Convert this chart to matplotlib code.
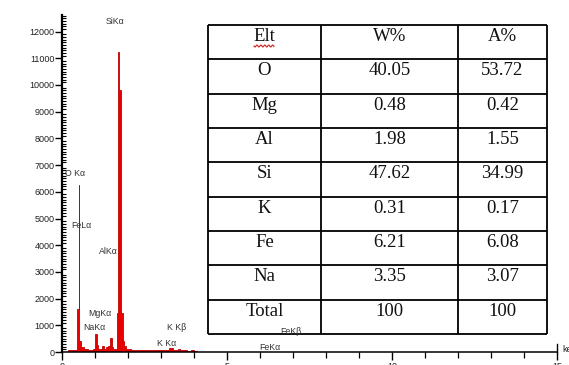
import numpy as np
import matplotlib
matplotlib.use("Agg")
import matplotlib.pyplot as plt
from matplotlib.ticker import MultipleLocator, FixedLocator

# ---- spectrum data (keV edges, counts) ----
edges = [0.18, 0.44, 0.50, 0.53, 0.58, 0.66, 0.80, 0.95, 1.01, 1.06, 1.10, 1.16,
         1.22, 1.27, 1.32, 1.40, 1.46, 1.51, 1.56, 1.66, 1.69, 1.72, 1.78, 1.84,
         1.88, 1.95, 2.10, 2.40, 2.80, 3.10, 3.25, 3.35, 3.50, 3.58, 3.65, 3.80,
         3.90, 4.00, 4.10]
counts = [60, 1600, 6250, 430, 180, 100, 80, 120, 680, 280, 130, 100,
          220, 120, 200, 220, 520, 200, 120, 1450, 11250, 9800, 1450, 400,
          220, 120, 90, 80, 70, 90, 150, 80, 110, 60, 90, 50,
          90, 40]

y_ticks = [0, 1000, 2000, 3000, 4000, 5000, 6000, 7000, 8000, 9000, 10000, 11000, 12000]
x_ticks = [0, 5, 10, 15]

# ---- table data ----
col_headers = ["Elt", "W%", "A%"]
elements = ["O", "Mg", "Al", "Si", "K", "Fe", "Na", "Total"]
w_pct = ["40.05", "0.48", "1.98", "47.62", "0.31", "6.21", "3.35", "100"]
a_pct = ["53.72", "0.42", "1.55", "34.99", "0.17", "6.08", "3.07", "100"]

# ---- peak labels (text, pixel x-left, pixel y-center) ----
peak_labels = [("SiK\u03b1", 106, 22), ("O K\u03b1", 65, 173), ("FeL\u03b1", 71, 226),
               ("AlK\u03b1", 99, 251), ("MgK\u03b1", 88, 313), ("NaK\u03b1", 83, 328),
               ("K K\u03b2", 167, 327), ("K K\u03b1", 157, 343),
               ("FeK\u03b2", 280, 332), ("FeK\u03b1", 259, 347)]

W, H = 569, 365
fig = plt.figure(figsize=(W / 100, H / 100), dpi=100)
fig.patch.set_facecolor("white")

x0, x1 = 62, 557
y0, y1 = 352, 15
ax = fig.add_axes([x0 / W, 1 - y0 / H, (x1 - x0) / W, (y0 - y1) / H])
ax.set_xlim(0, 15)
ax.set_ylim(0, (y0 - y1) / 26.7 * 1000)
ax.stairs(counts, edges, fill=True, facecolor="#e60000", edgecolor="#c40000",
          linewidth=0.6, baseline=0)

for s in ["top", "right"]:
    ax.spines[s].set_visible(False)
ax.spines["left"].set_linewidth(1.6)
ax.spines["bottom"].set_linewidth(1.1)

ax.yaxis.set_major_locator(FixedLocator(y_ticks))
ax.yaxis.set_minor_locator(MultipleLocator(100))
ax.xaxis.set_major_locator(FixedLocator(x_ticks))
ax.xaxis.set_minor_locator(MultipleLocator(1))
ax.tick_params(axis="y", which="major", direction="out", length=5, width=1.0,
               labelsize=6.5, pad=0.5, labelcolor="#222222")
ax.tick_params(axis="y", which="minor", direction="in", length=3, width=0.8)
ax.tick_params(axis="x", which="major", direction="out", length=6, width=1.0,
               labelsize=6.5, pad=1, labelcolor="#222222")
ax.tick_params(axis="x", which="minor", direction="out", length=4, width=0.9)
for lab in ax.get_xticklabels() + ax.get_yticklabels():
    lab.set_fontfamily("Liberation Sans")

# ---- overlay for table and labels ----
ov = fig.add_axes([0, 0, 1, 1])
ov.set_xlim(0, W)
ov.set_ylim(H, 0)
ov.axis("off")

# end tick at 15 keV pointing up
ov.plot([x1, x1], [y0 - 8, y0], color="black", lw=1.0)
ov.text(562, 350, "keV", fontsize=6.5, family="Liberation Sans", color="#222222",
        ha="left", va="center")

for txt, px, py in peak_labels:
    ov.text(px, py, txt, fontsize=6.3, family="Liberation Sans", color="#333333",
            ha="left", va="center")

col_x = [208, 321, 458, 547]
row_top = 25
row_h = 34.35
n_rows = len(elements) + 1
row_y = [row_top + i * row_h for i in range(n_rows + 1)]
for yy in row_y:
    ov.plot([col_x[0], col_x[-1]], [yy, yy], color="black", lw=1.3, solid_capstyle="butt")
for xx in col_x:
    ov.plot([xx, xx], [row_y[0], row_y[-1]], color="black", lw=1.3, solid_capstyle="butt")

rows = [col_headers] + [[e, w, a] for e, w, a in zip(elements, w_pct, a_pct)]
for i, row in enumerate(rows):
    cy = row_y[i] + 11.5
    for j, val in enumerate(row):
        cx = (col_x[j] + col_x[j + 1]) / 2
        ov.text(cx, cy, val, fontsize=13.5, family="Liberation Serif", color="#111111",
                ha="center", va="center")

# spell-check squiggle under "Elt"
sx = np.linspace(254, 274, 40)
ov.plot(sx, 46 + 1.0 * np.sin((sx - 254) * 1.6), color="#d02020", lw=0.8)

fig.savefig("out.png", dpi=100, facecolor="white")
